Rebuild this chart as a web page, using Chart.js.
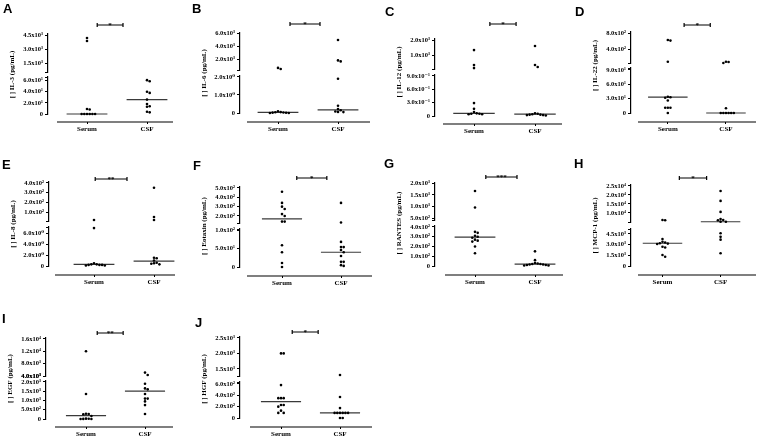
<!DOCTYPE html>
<html>
<head>
<meta charset="utf-8">
<script src="https://cdn.jsdelivr.net/npm/chart.js@4.4.1/dist/chart.umd.min.js"></script>
<style>
  body { margin: 0; background: #fff; }
  #wrap { position: relative; width: 760px; height: 438px; overflow: hidden; background: #fff; }
  #wrap canvas { position: absolute; }
  .letter { position: absolute; font: bold 13px 'Liberation Sans', Arial, sans-serif; line-height: 13px; color: #000; }
</style>
</head>
<body>
<div id="wrap"></div>
<script>
// ---- data ----
const groups = ["Serum", "CSF"];
const letters = ["A", "B", "C", "D", "E", "F", "G", "H", "I", "J"];
const yTitles = ["[ ] IL-3 (pg/mL)", "[ ] IL-6 (pg/mL)", "[ ] IL-12 (pg/mL)", "[ ] IL-22 (pg/mL)", "[ ] IL-8 (pg/mL)",
                 "[ ] Eotaxin (pg/mL)", "[ ] RANTES (pg/mL)", "[ ] MCP-1 (pg/mL)", "[ ] EGF (pg/mL)", "[ ] HGF (pg/mL)"];
const stars = ["*", "*", "*", "*", "**", "*", "***", "*", "**", "*"];

const serumValues = [
  [4230, 3910, 9, 8, 0, 0, 0, 0, 0, 0],
  [770, 600, 0.1, 0.05, 0.04, 0.03, 0.02, 0.01, 0, 0],
  [1330, 330, 130, 0.29, 0.16, 0.09, 0.06, 0.05, 0.05, 0.04, 0.04],
  [625, 610, 80, 34, 33, 32, 26, 11, 11, 11, 0],
  [17, 6.9, 0.5, 0.3, 0.3, 0.2, 0.2, 0.2, 0.1, 0.1],
  [460, 340, 300, 275, 220, 200, 140, 140, 59, 40, 11, 0],
  [1670, 960, 350, 340, 310, 300, 290, 270, 260, 250, 200, 130],
  [6100, 6000, 3800, 3400, 3300, 3200, 3150, 3100, 2700, 2600, 1550, 1300],
  [12000, 1350, 280, 270, 260, 160, 20, 10, 5, 0, 0],
  [2000, 2000, 580, 350, 350, 350, 230, 230, 200, 130, 90, 90]
];
const csfValues = [
  [61, 59, 40, 38, 26, 18, 14, 13, 4, 3],
  [5000, 1900, 1750, 1.9, 0.4, 0.22, 0.15, 0.08, 0.06, 0.05],
  [1600, 340, 200, 0.06, 0.05, 0.04, 0.03, 0.03, 0.02, 0.02, 0.01],
  [80, 75, 50, 10, 0, 0, 0, 0, 0, 0],
  [350, 48, 17, 1.5, 1.4, 1.0, 0.6, 0.5, 0.4, 0.3],
  [340, 130, 68, 54, 54, 46, 40, 30, 14, 14, 5, 3],
  [150, 60, 30, 25, 20, 20, 15, 15, 10, 10, 5, 5],
  [22200, 16700, 10600, 6700, 6100, 6000, 5200, 5100, 4600, 4100, 3700, 1800],
  [5100, 4300, 1900, 1650, 1600, 1350, 1100, 1100, 950, 750, 270],
  [1300, 370, 175, 90, 90, 90, 90, 90, 90, 0, 0]
];
const medians = [[0, 26], [0.03, 0.17], [0.06, 0.04], [33, 0], [0.3, 0.9],
                 [170, 40], [295, 20], [3200, 5150], [180, 1500], [290, 90]];

// broken axis: upper segment range, lower segment top
const upperRange = [[590, 4660], [450, 6050], [70, 2070], [50, 825], [7, 410],
                    [125, 510], [415, 2020], [5000, 25500], [4000, 16300], [1270, 2530]];
const lowerMax = [66.7, 2.05, 0.92, 94, 7.1, 103, 410, 5200, 2050, 635];

const upperTicks = [[1500, 3000, 4500], [2000, 4000, 6000], [1000, 2000], [400, 800], [100, 200, 300, 400],
                    [200, 300, 400, 500], [500, 1000, 1500, 2000], [10000, 15000, 20000, 25000],
                    [4000, 8000, 12000, 16000], [1500, 2000, 2500]];
const upperTickLabels = [
  ["1.5x10³", "3.0x10³", "4.5x10³"], ["2.0x10³", "4.0x10³", "6.0x10³"], ["1.0x10³", "2.0x10³"],
  ["4.0x10²", "8.0x10²"], ["1.0x10²", "2.0x10²", "3.0x10²", "4.0x10²"],
  ["2.0x10²", "3.0x10²", "4.0x10²", "5.0x10²"], ["5.0x10²", "1.0x10³", "1.5x10³", "2.0x10³"],
  ["1.0x10⁴", "1.5x10⁴", "2.0x10⁴", "2.5x10⁴"], ["4.0x10³", "8.0x10³", "1.2x10⁴", "1.6x10⁴"],
  ["1.5x10³", "2.0x10³", "2.5x10³"]
];
const lowerTicks = [[0, 20, 40, 60], [0, 1, 2], [0, 0.3, 0.6, 0.9], [0, 30, 60, 90], [0, 2, 4, 6],
                    [0, 50, 100], [0, 100, 200, 300, 400], [0, 1500, 3000, 4500],
                    [0, 500, 1000, 1500, 2000], [0, 200, 400, 600]];
const lowerTickLabels = [
  ["0", "2.0x10¹", "4.0x10¹", "6.0x10¹"], ["0", "1.0x10⁰", "2.0x10⁰"],
  ["0", "3.0x10⁻¹", "6.0x10⁻¹", "9.0x10⁻¹"], ["0", "3.0x10¹", "6.0x10¹", "9.0x10¹"],
  ["0", "2.0x10⁰", "4.0x10⁰", "6.0x10⁰"], ["0", "5.0x10¹", "1.0x10²"],
  ["0", "1.0x10²", "2.0x10²", "3.0x10²", "4.0x10²"], ["0", "1.5x10³", "3.0x10³", "4.5x10³"],
  ["0", "5.0x10²", "1.0x10³", "1.5x10³", "2.0x10³"], ["0", "2.0x10²", "4.0x10²", "6.0x10²"]
];
// significance bracket ends, in x-axis units (Serum = 1, CSF = 2)
const brackets = [[1.17, 1.6], [1.2, 1.7], [1.26, 1.69], [1.28, 1.73], [1.02, 1.55],
                  [1.25, 1.76], [1.18, 1.7], [1.29, 1.76], [1.19, 1.63], [1.19, 1.63]];

// ---- page layout (pixels in the 760x438 figure) ----
const frames = [
  { cell: [0, 0, 190, 140],     axisX: 48,  top: 34,  uBot: 72,  lTop: 77,  zero: 114, base: 122, xStart: 57,  right: 173, cats: [87, 147],  barY: 25,  letter: [3, 2] },
  { cell: [190, 0, 190, 140],   axisX: 240, top: 33,  uBot: 70,  lTop: 76,  zero: 113, base: 122, xStart: 247, right: 370, cats: [278, 338], barY: 24,  letter: [192, 2] },
  { cell: [380, 0, 190, 140],   axisX: 435, top: 39,  uBot: 69,  lTop: 75,  zero: 116, base: 124, xStart: 443, right: 562, cats: [474, 535], barY: 24,  letter: [385, 5] },
  { cell: [570, 0, 190, 140],   axisX: 631, top: 32,  uBot: 63,  lTop: 68,  zero: 113, base: 122, xStart: 638, right: 760, cats: [669, 729], barY: 25,  letter: [575, 5] },
  { cell: [0, 140, 190, 150],   axisX: 49,  top: 182, uBot: 221, lTop: 227, zero: 266, base: 275, xStart: 55,  right: 175, cats: [94, 154],  barY: 179, letter: [2, 158] },
  { cell: [190, 140, 190, 150], axisX: 240, top: 187, uBot: 223, lTop: 229, zero: 267, base: 276, xStart: 247, right: 372, cats: [282, 341], barY: 178, letter: [193, 159] },
  { cell: [380, 140, 190, 150], axisX: 435, top: 183, uBot: 220, lTop: 226, zero: 266, base: 275, xStart: 445, right: 563, cats: [475, 535], barY: 177, letter: [384, 157] },
  { cell: [570, 140, 190, 150], axisX: 631, top: 185, uBot: 222, lTop: 229, zero: 266, base: 275, xStart: 638, right: 758, cats: [663, 722], barY: 178, letter: [574, 157] },
  { cell: [0, 290, 190, 148],   axisX: 46,  top: 338, uBot: 376, lTop: 381, zero: 419, base: 427, xStart: 55,  right: 173, cats: [86, 145],  barY: 333, letter: [2, 312] },
  { cell: [190, 290, 190, 148], axisX: 240, top: 337, uBot: 376, lTop: 382, zero: 418, base: 427, xStart: 250, right: 372, cats: [281, 340], barY: 332, letter: [195, 316] }
];

const serif = "'Liberation Serif', 'DejaVu Serif', serif";
const AXIS_W = 40;
const XAXIS_H = 11;
Chart.defaults.font.family = serif;
Chart.defaults.font.weight = "bold";
Chart.defaults.font.size = 7;
Chart.defaults.color = "#000";

// approximate pixel height of a value, used only to spread overlapping dots sideways
function pixelY(v, f, p) {
  const [a, b] = upperRange[p];
  if (v >= a) return f.top + (b - v) / (b - a) * (f.uBot - f.top);
  return f.lTop + (lowerMax[p] - v) / lowerMax[p] * (f.zero - f.lTop);
}

function spread(values, f, p) {
  const step = 2.7 / (f.cats[1] - f.cats[0]);
  const placed = [];
  const offsets = new Array(values.length);
  const order = values.map((v, i) => i).sort((i, j) => values[j] - values[i]);
  order.forEach(i => {
    const py = pixelY(values[i], f, p);
    for (let k = 0; k < 40; k++) {
      const off = (k % 2 ? 1 : -1) * Math.ceil(k / 2) * step;
      const free = placed.every(q => Math.abs(q.py - py) >= 2.6 || Math.abs(q.off - off) >= step * 0.99);
      if (free) { placed.push({ py, off }); offsets[i] = off; break; }
    }
  });
  return offsets;
}

const decor = {
  id: "decor",
  afterDraw(chart, args, o) {
    const { ctx } = chart;
    const xs = chart.scales.x;
    ctx.save();
    ctx.strokeStyle = "#000";
    ctx.lineWidth = 1.2;
    ctx.beginPath();
    ctx.moveTo(o.xStart, xs.top);
    ctx.lineTo(xs.right, xs.top);
    const x1 = xs.getPixelForValue(o.bracket[0]);
    const x2 = xs.getPixelForValue(o.bracket[1]);
    ctx.moveTo(x1, o.barY); ctx.lineTo(x2, o.barY);
    ctx.moveTo(x1, o.barY - 2); ctx.lineTo(x1, o.barY + 2);
    ctx.moveTo(x2, o.barY - 2); ctx.lineTo(x2, o.barY + 2);
    ctx.stroke();
    ctx.fillStyle = "#000";
    ctx.font = "bold 7px " + serif;
    ctx.textAlign = "center";
    ctx.textBaseline = "alphabetic";
    ctx.fillText(o.stars, (x1 + x2) / 2, o.barY + 1.5);
    ctx.restore();
  }
};

// ticks plus an unlabelled mark at the broken end of the segment
function segmentAxis(ticks, labels, min, max, weight, breakEnd) {
  const marks = ticks.concat([breakEnd]).sort((a, b) => a - b);
  return {
    type: "linear", position: "left", stack: "y", stackWeight: weight, min, max,
    afterBuildTicks: s => { s.ticks = marks.map(v => ({ value: v })); },
    afterFit: s => { s.width = AXIS_W; },
    ticks: {
      callback: v => { const i = ticks.indexOf(v); return i < 0 ? "" : labels[i]; },
      font: { size: 6.5 }, padding: 2, autoSkip: false, maxRotation: 0
    },
    grid: { drawOnChartArea: false, drawTicks: true, tickLength: 3, color: "#000", lineWidth: 1 },
    border: { display: true, color: "#000", width: 1.2 }
  };
}

function spacerAxis(weight, title) {
  return {
    type: "linear", position: "left", stack: "y", stackWeight: weight, min: 0, max: 1,
    afterFit: s => { s.width = AXIS_W; },
    ticks: { display: false },
    grid: { display: false },
    border: { display: false },
    title: title ? { display: true, text: title, font: { size: 7 }, padding: 0 } : { display: false }
  };
}

const wrap = document.getElementById("wrap");

frames.forEach((f, p) => {
  const [cx, cy, cw, ch] = f.cell;
  const canvas = document.createElement("canvas");
  canvas.width = cw; canvas.height = ch;
  canvas.style.left = cx + "px"; canvas.style.top = cy + "px";
  canvas.style.width = cw + "px"; canvas.style.height = ch + "px";
  wrap.appendChild(canvas);

  const tag = document.createElement("div");
  tag.className = "letter";
  tag.textContent = letters[p];
  tag.style.left = f.letter[0] + "px"; tag.style.top = f.letter[1] + "px";
  wrap.appendChild(tag);

  const split = upperRange[p][0];
  const dot = { pointRadius: 1.3, pointBackgroundColor: "#000", pointBorderWidth: 0, clip: false };
  const datasets = [];
  [serumValues[p], csfValues[p]].forEach((vals, g) => {
    const offs = spread(vals, f, p);
    const up = [], lo = [];
    vals.forEach((v, i) => (v >= split ? up : lo).push({ x: g + 1 + offs[i], y: v }));
    datasets.push({ type: "scatter", data: up, yAxisID: "yU", ...dot });
    datasets.push({ type: "scatter", data: lo, yAxisID: "yL", ...dot });
    const m = medians[p][g];
    datasets.push({
      type: "line", data: [{ x: g + 1 - 0.34, y: m }, { x: g + 1 + 0.34, y: m }],
      yAxisID: m >= split ? "yU" : "yL", borderColor: "#3a3a3a", borderWidth: 1.2, pointRadius: 0, clip: false
    });
  });

  const unit = f.cats[1] - f.cats[0];
  const xMin = 1 - (f.cats[0] - f.axisX) / unit;
  const xMax = 2 + (f.right - f.cats[1]) / unit;

  new Chart(canvas, {
    type: "scatter",
    data: { datasets },
    options: {
      responsive: false,
      animation: false,
      events: [],
      layout: {
        padding: {
          left: f.axisX - AXIS_W - cx,
          right: cx + cw - f.right,
          top: f.top - cy,
          bottom: cy + ch - f.base - XAXIS_H
        }
      },
      plugins: {
        legend: { display: false },
        tooltip: { enabled: false },
        decor: { xStart: f.xStart - cx, barY: f.barY - cy, bracket: brackets[p], stars: stars[p] }
      },
      scales: {
        yPad: spacerAxis(f.base - f.zero),
        yL: segmentAxis(lowerTicks[p], lowerTickLabels[p], 0, lowerMax[p], f.zero - f.lTop, lowerMax[p]),
        yGap: spacerAxis(f.lTop - f.uBot, yTitles[p]),
        yU: segmentAxis(upperTicks[p], upperTickLabels[p], upperRange[p][0], upperRange[p][1], f.uBot - f.top, upperRange[p][0]),
        x: {
          type: "linear", position: "bottom", min: xMin, max: xMax,
          afterBuildTicks: s => { s.ticks = [1, 2].map(v => ({ value: v })); },
          afterFit: s => { s.height = XAXIS_H; },
          ticks: { callback: (v, i) => groups[i], font: { size: 7 }, padding: 1, autoSkip: false, maxRotation: 0 },
          grid: { drawOnChartArea: false, drawTicks: true, tickLength: 2, color: "#000" },
          border: { display: false }
        }
      }
    },
    plugins: [decor]
  });
});
</script>
</body>
</html>
